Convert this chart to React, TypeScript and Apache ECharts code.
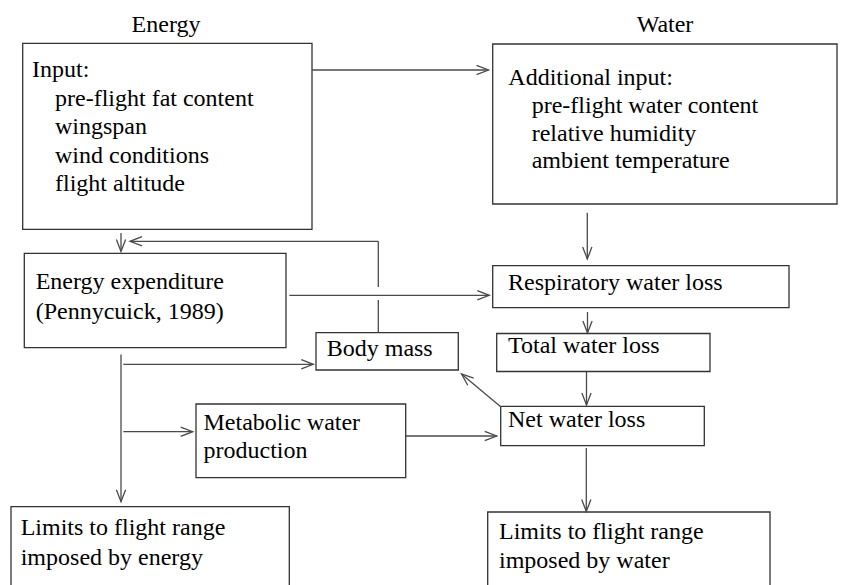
import React, { useEffect, useRef } from "react";
import * as echarts from "echarts";

// ---- diagram content (texts) ----
const columnTitles = ["Energy", "Water"];
const inputLines = ["Input:", "pre-flight fat content", "wingspan", "wind conditions", "flight altitude"];
const waterInputLines = ["Additional input:", "pre-flight water content", "relative humidity", "ambient temperature"];
const expenditureLines = ["Energy expenditure", "(Pennycuick, 1989)"];
const bodyMassLines = ["Body mass"];
const respiratoryLines = ["Respiratory water loss"];
const totalLossLines = ["Total water loss"];
const netLossLines = ["Net water loss"];
const metabolicLines = ["Metabolic water", "production"];
const energyLimitLines = ["Limits to flight range", "imposed by energy"];
const waterLimitLines = ["Limits to flight range", "imposed by water"];

const FONT_FAMILY = "'Liberation Serif', 'Times New Roman', serif";
const FONT_SIZE = 24;
const BOX_COLOR = "#333333";
const LINE_COLOR = "#4a4a4a";
const LW = 1.3;

function rectEl(x0: number, y0: number, x1: number, y1: number) {
  return {
    type: "rect",
    shape: { x: x0, y: y0, width: x1 - x0, height: y1 - y0 },
    style: { fill: "none", stroke: BOX_COLOR, lineWidth: LW },
    silent: true,
  };
}

function lineEl(x1: number, y1: number, x2: number, y2: number) {
  return {
    type: "line",
    shape: { x1, y1, x2, y2 },
    style: { stroke: LINE_COLOR, lineWidth: LW },
    silent: true,
  };
}

function arrowEls(x1: number, y1: number, x2: number, y2: number) {
  const dx = x2 - x1;
  const dy = y2 - y1;
  const L = Math.hypot(dx, dy);
  const ux = dx / L;
  const uy = dy / L;
  const len = 12;
  const hw = 4.6;
  const bx = x2 - ux * len;
  const by = y2 - uy * len;
  const px = -uy;
  const py = ux;
  return [
    lineEl(x1, y1, x2, y2),
    {
      type: "polyline",
      shape: {
        points: [
          [bx + px * hw, by + py * hw],
          [x2, y2],
          [bx - px * hw, by - py * hw],
        ],
      },
      style: { stroke: LINE_COLOR, fill: "none", lineWidth: LW },
      silent: true,
    },
  ];
}

function textEl(s: string, x: number, baseline: number, align: string = "left") {
  return {
    type: "text",
    x,
    y: baseline - 8,
    silent: true,
    style: {
      text: s,
      fontFamily: FONT_FAMILY,
      fontSize: FONT_SIZE,
      fill: "#000",
      align,
      textAlign: align,
      verticalAlign: "middle",
      textVerticalAlign: "middle",
    },
  };
}

function linesEls(lines: string[], xs: number[], baselines: number[]) {
  return lines.map((s, i) => textEl(s, xs[Math.min(i, xs.length - 1)], baselines[i]));
}

function buildElements() {
  const els: any[] = [];
  // titles
  els.push(textEl(columnTitles[0], 166, 32, "center"));
  els.push(textEl(columnTitles[1], 665, 32, "center"));

  // boxes
  els.push(rectEl(22.7, 43.3, 312, 229.3));
  els.push(rectEl(492.7, 44, 837, 204));
  els.push(rectEl(24.3, 253.3, 286, 347.7));
  els.push(rectEl(316, 332.7, 458.3, 370));
  els.push(rectEl(492.7, 265.7, 789, 307.7));
  els.push(rectEl(496.7, 333.5, 710, 371.5));
  els.push(rectEl(500.7, 406.3, 704.3, 445.7));
  els.push(rectEl(196, 404, 405.7, 477.7));
  els.push(rectEl(11, 506.7, 289.3, 620));
  els.push(rectEl(487.7, 512, 770, 620));

  // texts
  els.push(...linesEls(inputLines, [32, 55], [77, 105.5, 134, 162.5, 191]));
  els.push(...linesEls(waterInputLines, [508.3, 531.7], [85, 113, 140.5, 168]));
  els.push(...linesEls(expenditureLines, [35.7], [289, 318.5]));
  els.push(...linesEls(bodyMassLines, [326.7], [355.5]));
  els.push(...linesEls(respiratoryLines, [508], [290]));
  els.push(...linesEls(totalLossLines, [508], [352.7]));
  els.push(...linesEls(netLossLines, [508], [426.7]));
  els.push(...linesEls(metabolicLines, [203.5], [429.5, 457.5]));
  els.push(...linesEls(energyLimitLines, [20.7], [534.5, 564.5]));
  els.push(...linesEls(waterLimitLines, [499], [538.5, 567.7]));

  // connectors
  els.push(...arrowEls(312, 70, 488.5, 70)); // input -> water
  els.push(...arrowEls(121, 233, 121, 251.5)); // input -> expenditure
  // body mass feedback (with line jump gap)
  els.push(lineEl(378.3, 332.7, 378.3, 300));
  els.push(lineEl(378.3, 287, 378.3, 241.3));
  els.push(...arrowEls(378.3, 241.3, 130, 241.3));
  els.push(...arrowEls(289.3, 295.3, 489.3, 295.3)); // expenditure -> respiratory
  els.push(...arrowEls(121, 354.5, 121, 501.7)); // expenditure -> limits energy
  els.push(...arrowEls(123.3, 364.3, 313.3, 364.3)); // -> body mass
  els.push(...arrowEls(123.3, 431.7, 192.7, 431.7)); // -> metabolic
  els.push(...arrowEls(406, 436, 496.7, 436)); // metabolic -> net
  els.push(...arrowEls(587.3, 212.7, 587.3, 259)); // water -> respiratory
  els.push(...arrowEls(587.5, 312, 587.5, 333)); // respiratory -> total
  els.push(...arrowEls(586.5, 372, 586.5, 405)); // total -> net
  els.push(...arrowEls(500.7, 406.7, 461.5, 374)); // net -> body mass
  els.push(...arrowEls(586.3, 448, 586.3, 511.5)); // net -> limits water
  return els;
}

export default function App() {
  const ref = useRef<HTMLDivElement>(null);
  useEffect(() => {
    if (!ref.current) return;
    const chart = echarts.init(ref.current, undefined, { renderer: "svg" });
    chart.setOption({
      animation: false,
      backgroundColor: "#ffffff",
      graphic: { elements: buildElements() },
    });
    return () => chart.dispose();
  }, []);
  return (
    <div
      ref={ref}
      style={{ position: "absolute", left: 0, top: 0, width: 843, height: 585, background: "#fff" }}
    />
  );
}
